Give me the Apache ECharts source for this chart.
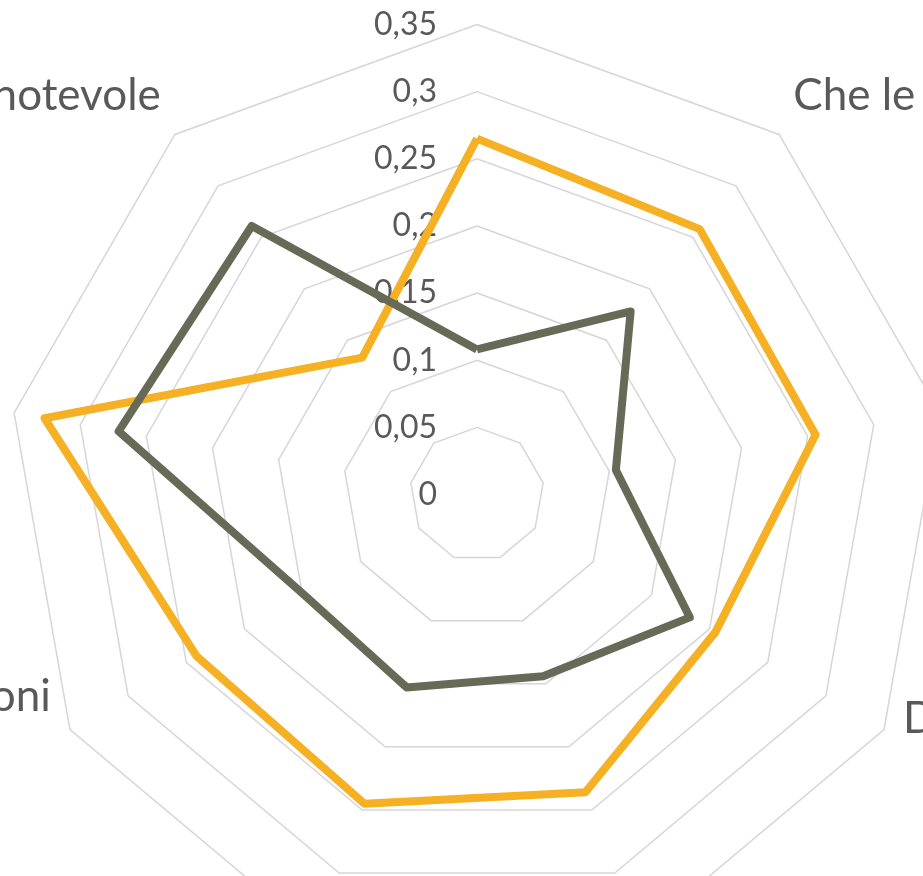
<!DOCTYPE html>
<html>
<head>
<meta charset="utf-8">
<script src="https://cdn.jsdelivr.net/npm/echarts@6/dist/echarts.min.js"></script>
<style>
  html, body { margin: 0; padding: 0; background: #fff; }
  #radar_chart { width: 923px; height: 876px; }
</style>
</head>
<body>
<div id="radar_chart"></div>
<script>
// axes listed clockwise from the top, as in the original sheet
const axisNames = [
  'Leggere e ragionare',
  'Che le lezioni siano chiare',
  'Interesse per la materia',
  'Disponibilità',
  'Puntualità',
  'Organizzazione',
  'Partecipazione alle lezioni',
  'Carico di lavoro',
  'Miglioramento notevole'
];
const yellowValues = [0.265, 0.258, 0.256, 0.205, 0.236, 0.245, 0.241, 0.327, 0.133];
const greyValues = [0.108, 0.178, 0.105, 0.183, 0.144, 0.153, 0.149, 0.271, 0.261];
const maxValue = 0.35;
const ringCount = 7;

// echarts puts indicators counter-clockwise, so walk the lists backwards after the first
const order = [0, 8, 7, 6, 5, 4, 3, 2, 1];
// empty lines under a name lift it a bit, like excel does
const nameLift = { 1: 1, 3: 1, 6: 2, 8: 1 };

const chart = echarts.init(document.getElementById('radar_chart'));

const indicator = order.map(function (i, k) {
  const item = {
    name: axisNames[i] + '\n'.repeat(nameLift[i] || 0),
    min: 0,
    max: maxValue
  };
  if (k === 0) {
    item.nameGap = 27;
    item.axisLabel = {
      show: true,
      margin: 40,
      fontSize: 32,
      color: '#595959',
      fontFamily: 'Lato',
      formatter: function (v) { return String(+v.toFixed(2)).replace('.', ','); }
    };
  }
  return item;
});

const option = {
  backgroundColor: '#fff',
  animation: false,
  radar: {
    center: [477, 494.5],
    radius: 470,
    startAngle: 90,
    splitNumber: ringCount,
    shape: 'polygon',
    nameGap: 22,
    axisName: {
      color: '#595959',
      fontSize: 44,
      fontFamily: 'Lato'
    },
    axisLine: { show: false },
    axisTick: { show: false },
    axisLabel: { show: false },
    splitArea: { show: false },
    splitLine: { lineStyle: { color: '#D6D6D6', width: 1.5 } },
    indicator: indicator
  },
  series: [{
    type: 'radar',
    symbol: 'none',
    data: [
      {
        value: order.map(i => yellowValues[i]),
        lineStyle: { color: '#F6B024', width: 8, join: 'round' },
        itemStyle: { color: '#F6B024' }
      },
      {
        value: order.map(i => greyValues[i]),
        lineStyle: { color: '#676A56', width: 8, join: 'round' },
        itemStyle: { color: '#676A56' }
      }
    ]
  }]
};

chart.setOption(option);
</script>
</body>
</html>
